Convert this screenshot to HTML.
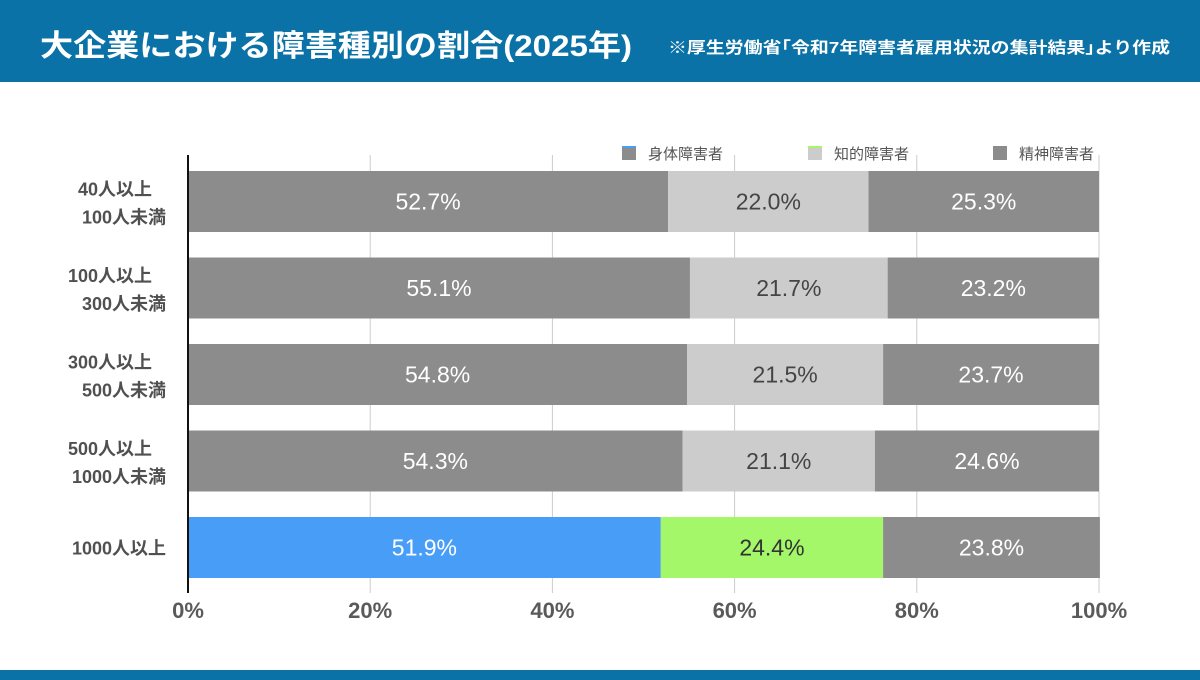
<!DOCTYPE html>
<html><head><meta charset="utf-8">
<style>
html,body{margin:0;padding:0;width:1200px;height:680px;overflow:hidden;background:#fff;font-family:"Liberation Sans","Noto Sans CJK JP",sans-serif;}
</style></head>
<body>
<svg id="chart" width="1200" height="680" xmlns="http://www.w3.org/2000/svg">
<rect x="0" y="0" width="1200" height="82" fill="#0a72a6"/>
<text x="40" y="56" fill="#fff" font-size="30" font-weight="bold" textLength="592" lengthAdjust="spacingAndGlyphs" font-family="Liberation Sans,Noto Sans CJK JP,sans-serif">大企業における障害種別の割合(2025年)</text>
<text x="668" y="53" fill="#fff" font-size="16" font-weight="bold" textLength="502" lengthAdjust="spacingAndGlyphs" font-family="Liberation Sans,Noto Sans CJK JP,sans-serif">※厚生労働省｢令和7年障害者雇用状況の集計結果｣より作成</text>
<rect x="0" y="670" width="1200" height="10" fill="#0a72a6"/>
<g id="plot"></g>
</svg>
<script>
const categories=[["40人以上","100人未満"],["100人以上","300人未満"],["300人以上","500人未満"],["500人以上","1000人未満"],["1000人以上"]];
const seriesNames=["身体障害者","知的障害者","精神障害者"];
const physical=[52.7,55.1,54.8,54.3,51.9];
const intellectual=[22.0,21.7,21.5,21.1,24.4];
const mental=[25.3,23.2,23.7,24.6,23.8];
const ticks=[0,20,40,60,80,100];
const NS="http://www.w3.org/2000/svg";
const g=document.getElementById('plot');
const X0=188,X1=1099,Y0=155,Y1=593;
const x=v=>X0+(X1-X0)*v/100;
const rowTop=i=>171+i*86.5;
const BH=61;
function mk(t,a){const e=document.createElementNS(NS,t);for(const k in a)e.setAttribute(k,a[k]);g.appendChild(e);return e;}
ticks.forEach(t=>{
  if(t>0){const l=mk('line',{x1:x(t),x2:x(t),y1:Y0,y2:Y1,stroke:'#ccc','stroke-width':1});
  
  }
  const tx=mk('text',{x:x(t),y:618,'text-anchor':'middle','font-size':22,'font-weight':'bold',fill:'#5a5a5a'});
  tx.textContent=t+'%';
  
  
});
const normal=['#8c8c8c','#cccccc','#8c8c8c'];
const hi=['#489ef7','#a3f769','#8c8c8c'];
const txtc=['#fff','#444','#fff'];
const txtHi=['#fff','#333','#fff'];
const series=[physical,intellectual,mental];
categories.forEach((c,i)=>{
  let acc=0;const last=i===categories.length-1;
  series.forEach((s,j)=>{
    const v=s[i];
    const r=mk('rect',{x:x(acc),y:rowTop(i),width:x(acc+v)-x(acc),height:BH,fill:(last?hi:normal)[j]});
    
    
    const t=mk('text',{x:(x(acc)+x(acc+v))/2,y:rowTop(i)+BH/2+8,'text-anchor':'middle','font-size':23,fill:(last?txtHi:txtc)[j]});
    t.textContent=v.toFixed(1)+'%';
    
    
    acc+=v;
  });
  const cy=rowTop(i)+BH/2;
  c.forEach((line,k)=>{
    const yy=c.length===1?cy+7:cy-6+k*28;
    const t=mk('text',{x:k===0&&c.length>1?152:166,y:yy,'text-anchor':'end','font-size':18,'font-weight':'bold',fill:'#505050'});
    t.textContent=line;
    
    
  });
});
const ax=mk('line',{x1:X0,x2:X0,y1:Y0,y2:Y1,stroke:'#111','stroke-width':2});


const lx=[622,808,993];
const lc=['#489ef7','#a3f769','#8c8c8c'];
seriesNames.forEach((n,j)=>{
  const s=mk('rect',{x:lx[j],y:146,width:14,height:14,fill:'#8c8c8c'});
  if(j===1)s.setAttribute('fill','#cccccc');
  
  
  const s2=mk('rect',{x:lx[j],y:146,width:14,height:2,fill:lc[j]});
  
  
  const t=mk('text',{x:lx[j]+26,y:159,'font-size':15,fill:'#555'});
  t.textContent=n;
  
  
});
</script>
</body></html>
